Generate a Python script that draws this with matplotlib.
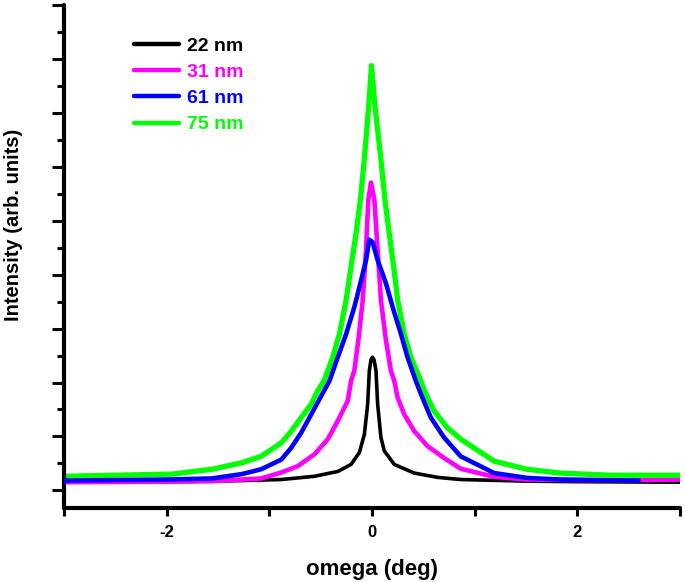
import matplotlib
matplotlib.use("Agg")
import matplotlib.pyplot as plt
from matplotlib.ticker import FixedLocator, NullFormatter

plt.rcParams['font.family'] = ['Liberation Sans', 'DejaVu Sans']
plt.rcParams['font.weight'] = 'bold'
plt.rcParams['axes.unicode_minus'] = False

# values (x in deg, y in arbitrary units)
labels = ["22 nm", "31 nm", "61 nm", "75 nm"]
colors = ["#000000", "#ff00ff", "#0000ff", "#00ff00"]

x_22 = [-3, -2, -1.5, -0.883, -0.56, -0.333, -0.204, -0.123, -0.074, -0.042,
        -0.026, -0.01, 0.005, 0.02, 0.039, 0.055, 0.087, 0.12, 0.217, 0.411,
        0.638, 0.864, 1.5, 2, 3]
y_22 = [0.15, 0.16, 0.17, 0.20, 0.26, 0.35, 0.48, 0.70, 1.04, 1.60,
        2.22, 2.42, 2.47, 2.42, 2.22, 1.60, 0.98, 0.73, 0.48, 0.32,
        0.24, 0.20, 0.17, 0.16, 0.15]

x_31 = [-3, -2, -1.56, -1.08, -0.883, -0.721, -0.56, -0.43, -0.333, -0.236,
        -0.204, -0.172, -0.133, -0.09, -0.058, -0.036, -0.01, 0.023, 0.055,
        0.087, 0.136, 0.184, 0.217, 0.25, 0.314, 0.411, 0.541, 0.702, 0.864,
        1.19, 1.51, 2, 2.5, 3]
y_31 = [0.15, 0.16, 0.17, 0.22, 0.33, 0.45, 0.67, 0.95, 1.29, 1.66,
        2.03, 2.22, 2.78, 3.53, 4.46, 5.39, 5.71, 5.39, 4.46,
        3.53, 2.78, 2.22, 2.03, 1.72, 1.41, 1.10, 0.82, 0.60, 0.40,
        0.25, 0.20, 0.19, 0.19, 0.20]

x_61 = [-3, -2, -1.56, -1.27, -1.08, -0.883, -0.786, -0.689, -0.592, -0.495,
        -0.414, -0.333, -0.252, -0.172, -0.113, -0.058, -0.026, 0.007, 0.055,
        0.136, 0.201, 0.282, 0.346, 0.427, 0.476, 0.573, 0.702, 0.864, 1.19,
        1.51, 1.83, 2.2, 2.6]
y_61 = [0.18, 0.20, 0.22, 0.30, 0.39, 0.57, 0.79, 1.07, 1.41, 1.75,
        2.03, 2.47, 2.90, 3.40, 3.84, 4.27, 4.65, 4.60, 4.27,
        3.84, 3.40, 2.90, 2.47, 2.03, 1.79, 1.35, 0.98, 0.63, 0.32,
        0.23, 0.20, 0.19, 0.18]

x_75 = [-3, -2.5, -1.95, -1.56, -1.27, -1.08, -0.883, -0.786, -0.689, -0.592,
        -0.527, -0.463, -0.382, -0.317, -0.252, -0.204, -0.155, -0.113, -0.075,
        -0.032, -0.005, 0.029, 0.087, 0.126, 0.168, 0.211, 0.25, 0.314, 0.379,
        0.476, 0.508, 0.605, 0.735, 0.864, 1.19, 1.51, 1.83, 2.32, 3]
y_75 = [0.26, 0.28, 0.30, 0.39, 0.51, 0.63, 0.88, 1.10, 1.35, 1.60,
        1.85, 2.05, 2.47, 2.90, 3.53, 4.15, 4.77, 5.39, 6.14,
        7.13, 7.88, 7.13, 6.14, 5.39, 4.77, 4.15, 3.53, 2.90, 2.47,
        2.03, 1.85, 1.47, 1.16, 0.95, 0.54, 0.39, 0.32, 0.28, 0.28]

fig = plt.figure(figsize=(6.85, 5.82), dpi=100)
ax = fig.add_axes([0.0934, 0.127, 0.8993, 0.864])

series = [(x_22, y_22, 2.6), (x_31, y_31, 3.3), (x_61, y_61, 3.3), (x_75, y_75, 3.8)]
lines = []
for (xs, ys, lw), lab, col in zip(series, labels, colors):
    ln, = ax.plot(xs, ys, color=col, lw=lw, label=lab, solid_capstyle='round',
                  solid_joinstyle='round')
    lines.append(ln)
# blue drawn over green as in the reference
lines[2].set_zorder(3)

ax.set_xlim(-3, 3)
ax.set_ylim(-0.33, 9)

for side in ["top", "right"]:
    ax.spines[side].set_visible(False)
for side in ["left", "bottom"]:
    ax.spines[side].set_linewidth(3)
    ax.spines[side].set_capstyle('round')

ax.xaxis.set_major_locator(FixedLocator([-2, 0, 2]))
ax.xaxis.set_minor_locator(FixedLocator([-3, -1, 1, 3]))
ax.yaxis.set_major_locator(FixedLocator(range(0, 10)))
ax.yaxis.set_minor_locator(FixedLocator([0.5 + i for i in range(9)]))
ax.yaxis.set_major_formatter(NullFormatter())

ax.tick_params(axis='x', which='both', direction='out', length=6, width=2.2,
               labelsize=12, pad=6)
ax.tick_params(axis='y', which='major', direction='out', length=9, width=2.2)
ax.tick_params(axis='y', which='minor', direction='out', length=5, width=2.2)
for lab in ax.get_xticklabels():
    lab.set_fontweight('bold')

ax.set_xlabel("omega (deg)", fontsize=16, fontweight='bold', labelpad=14)
ax.set_ylabel("Intensity (arb. units)", fontsize=14.5, fontweight='bold')
ax.yaxis.set_label_coords(-0.067, 0.563)

leg = ax.legend(loc='upper left', bbox_to_anchor=(0.086, 0.971), frameon=False,
                handlelength=2.3, handletextpad=0.4, labelspacing=0.44,
                prop={'weight': 'bold', 'size': 14}, labelcolor='linecolor')
for h in leg.get_lines():
    h.set_linewidth(3.2)

fig.savefig("out.png", dpi=100)
